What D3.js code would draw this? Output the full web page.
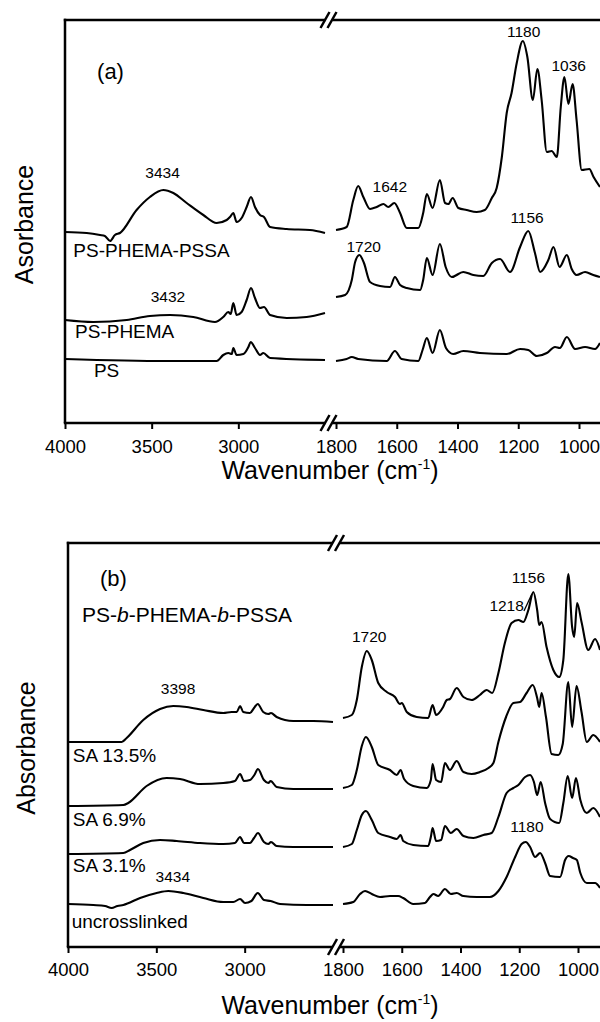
<!DOCTYPE html>
<html>
<head>
<meta charset="utf-8">
<script src="https://cdn.jsdelivr.net/npm/d3@7"></script>
<style>
    body { margin: 0; background: #fff; }
    svg text { font-family: "Liberation Sans", Arial, sans-serif; fill: #000; }
</style>
</head>
<body>
<div id="chart"></div>
<script>
// Tick labels of the broken wavenumber axis
const ticksHigh = [4000, 3500, 3000];
const ticksLow = [1800, 1600, 1400, 1200, 1000];

// Panel (a) spectra: [wavenumber (cm-1), absorbance (a.u., offset)]
const psPhemaPssa = [
    [4000,1.91],[3875,1.90],[3798,1.88],[3770,1.87],[3740,1.82],[3712,1.88],[3683,1.90],[3587,2.13],[3510,2.26],
    [3433,2.33],[3375,2.30],[3298,2.20],[3202,2.08],[3125,2.00],[3067,2.03],[3048,2.06],[3029,2.10],[3010,2.01],
    [2981,2.05],[2952,2.16],[2927,2.26],[2904,2.16],[2875,2.08],[2852,2.06],[2817,1.96],[2721,1.94],[2587,1.93],[2500,1.90],
    [1800,1.93],[1765,1.96],[1743,2.23],[1727,2.37],[1710,2.26],[1688,2.14],[1666,2.16],[1644,2.19],[1628,2.16],
    [1608,2.20],[1589,2.10],[1567,1.95],[1529,1.95],[1513,2.10],[1501,2.29],[1482,2.15],[1458,2.43],[1441,2.20],
    [1430,2.19],[1416,2.25],[1397,2.15],[1370,2.13],[1337,2.11],[1310,2.13],[1287,2.25],[1271,2.35],[1254,2.66],
    [1238,3.10],[1222,3.30],[1205,3.60],[1185,3.82],[1170,3.66],[1152,3.23],[1137,3.54],[1123,3.23],[1106,2.71],
    [1090,2.72],[1073,2.66],[1060,3.16],[1048,3.46],[1035,3.19],[1021,3.39],[1008,3.03],[991,2.53],[966,2.54],
    [952,2.46],[931,2.36]
];
const psPhema = [
    [4000,1.03],[3837,1.01],[3644,1.03],[3510,1.07],[3394,1.08],[3260,1.06],[3135,1.01],[3087,1.06],[3058,1.11],
    [3044,1.09],[3029,1.20],[3010,1.08],[2981,1.11],[2952,1.23],[2927,1.35],[2904,1.25],[2875,1.15],[2852,1.16],
    [2817,1.08],[2721,1.05],[2606,1.06],[2500,1.10],
    [1800,1.26],[1770,1.28],[1748,1.43],[1737,1.61],[1723,1.68],[1708,1.60],[1688,1.41],[1655,1.37],[1622,1.36],
    [1606,1.46],[1589,1.38],[1567,1.35],[1523,1.33],[1513,1.43],[1501,1.65],[1482,1.48],[1458,1.79],[1439,1.56],
    [1419,1.46],[1381,1.51],[1348,1.48],[1315,1.47],[1287,1.60],[1260,1.64],[1227,1.51],[1194,1.76],[1167,1.92],
    [1145,1.70],[1128,1.51],[1101,1.63],[1084,1.76],[1064,1.56],[1040,1.68],[1024,1.54],[1008,1.48],[980,1.51],
    [953,1.48],[931,1.46]
];
const ps = [
    [4000,0.64],[3413,0.62],[3125,0.62],[3087,0.68],[3058,0.70],[3038,0.69],[3029,0.75],[3010,0.68],[2971,0.69],
    [2942,0.76],[2929,0.81],[2904,0.75],[2875,0.68],[2856,0.70],[2817,0.65],[2500,0.63],
    [1800,0.62],[1765,0.64],[1748,0.66],[1727,0.64],[1633,0.62],[1606,0.72],[1584,0.64],[1529,0.62],[1515,0.73],
    [1501,0.85],[1482,0.70],[1458,0.93],[1438,0.75],[1414,0.69],[1381,0.72],[1326,0.70],[1238,0.69],[1194,0.74],
    [1167,0.73],[1139,0.67],[1106,0.70],[1079,0.76],[1063,0.75],[1040,0.86],[1013,0.74],[980,0.76],[947,0.74],[931,0.80]
];

// Panel (b) spectra
const sa135 = [
    [4000,2.05],[3696,2.05],[3668,2.09],[3574,2.27],[3479,2.38],[3404,2.41],[3328,2.40],[3234,2.37],[3121,2.34],
    [3074,2.35],[3045,2.35],[3026,2.41],[3008,2.35],[2970,2.34],[2947,2.39],[2926,2.43],[2895,2.35],[2866,2.33],
    [2851,2.34],[2819,2.30],[2725,2.26],[2611,2.26],[2500,2.25],
    [1800,2.29],[1770,2.32],[1753,2.47],[1736,2.80],[1719,2.96],[1702,2.87],[1680,2.64],[1651,2.55],[1623,2.50],
    [1606,2.43],[1600,2.44],[1583,2.35],[1549,2.30],[1510,2.29],[1495,2.42],[1483,2.32],[1459,2.40],[1447,2.47],
    [1436,2.48],[1413,2.59],[1390,2.50],[1362,2.47],[1334,2.52],[1311,2.57],[1292,2.54],[1271,2.74],[1249,3.04],
    [1226,3.24],[1203,3.27],[1186,3.25],[1169,3.37],[1152,3.55],[1139,3.37],[1132,3.22],[1124,3.25],[1107,3.00],
    [1084,2.77],[1064,2.70],[1050,2.87],[1033,3.73],[1020,3.20],[1013,3.10],[1003,3.44],[988,3.25],[965,2.97],
    [942,3.08],[925,2.97]
];
const sa69 = [
    [4000,1.41],[3687,1.42],[3659,1.44],[3555,1.61],[3442,1.69],[3366,1.68],[3253,1.63],[3121,1.64],[3055,1.66],
    [3026,1.73],[3004,1.66],[2970,1.67],[2945,1.72],[2925,1.78],[2891,1.67],[2866,1.64],[2853,1.66],[2819,1.60],
    [2725,1.58],[2500,1.58],
    [1800,1.59],[1770,1.62],[1753,1.77],[1736,2.01],[1722,2.10],[1702,2.00],[1680,1.82],[1640,1.77],[1617,1.72],
    [1604,1.77],[1592,1.68],[1561,1.61],[1515,1.59],[1501,1.67],[1495,1.83],[1483,1.67],[1466,1.65],[1453,1.84],
    [1436,1.77],[1413,1.86],[1390,1.75],[1362,1.73],[1334,1.75],[1305,1.79],[1288,1.84],[1271,2.05],[1245,2.30],
    [1220,2.44],[1197,2.45],[1175,2.54],[1154,2.62],[1139,2.49],[1132,2.40],[1124,2.54],[1109,2.30],[1090,1.93],
    [1067,1.92],[1052,2.03],[1033,2.65],[1020,2.20],[1005,2.61],[988,2.35],[970,2.05],[948,2.12],[925,2.05]
];
const sa31 = [
    [4000,0.93],[3687,0.94],[3649,0.97],[3574,1.04],[3479,1.07],[3385,1.06],[3253,1.04],[3121,1.03],[3055,1.04],
    [3026,1.10],[3004,1.04],[2970,1.04],[2947,1.09],[2925,1.14],[2891,1.05],[2866,1.03],[2851,1.05],[2819,1.01],
    [2725,1.00],[2500,1.00],
    [1800,1.00],[1770,1.03],[1753,1.17],[1736,1.32],[1722,1.36],[1702,1.27],[1680,1.14],[1640,1.10],[1617,1.08],
    [1604,1.12],[1595,1.06],[1561,1.02],[1510,1.01],[1501,1.10],[1495,1.19],[1483,1.06],[1466,1.07],[1453,1.21],
    [1433,1.14],[1413,1.18],[1390,1.11],[1356,1.09],[1322,1.12],[1294,1.14],[1271,1.30],[1243,1.54],[1220,1.59],
    [1203,1.62],[1180,1.70],[1163,1.72],[1150,1.65],[1139,1.52],[1127,1.65],[1112,1.44],[1095,1.28],[1064,1.24],
    [1050,1.44],[1035,1.71],[1020,1.49],[1007,1.69],[992,1.47],[970,1.34],[948,1.39],[925,1.30]
];
const uncrosslinked = [
    [4000,0.43],[3857,0.42],[3790,0.41],[3753,0.39],[3720,0.41],[3687,0.42],[3592,0.49],[3498,0.54],[3432,0.56],
    [3347,0.54],[3234,0.49],[3121,0.45],[3064,0.45],[3026,0.48],[2998,0.44],[2962,0.46],[2926,0.54],[2891,0.47],
    [2853,0.46],[2800,0.43],[2649,0.42],[2500,0.42],
    [1800,0.43],[1765,0.45],[1742,0.53],[1725,0.56],[1702,0.53],[1674,0.50],[1640,0.51],[1612,0.51],[1595,0.49],
    [1561,0.43],[1521,0.44],[1504,0.50],[1492,0.53],[1476,0.51],[1453,0.58],[1433,0.53],[1413,0.54],[1390,0.51],
    [1345,0.50],[1300,0.50],[1271,0.56],[1243,0.70],[1214,0.90],[1192,1.03],[1178,1.05],[1163,1.00],[1146,0.90],
    [1129,0.94],[1112,0.84],[1095,0.71],[1061,0.70],[1044,0.87],[1032,0.91],[1017,0.89],[1004,0.87],[992,0.74],
    [970,0.64],[942,0.64],[925,0.59]
];

// Text labels placed at [text, wavenumber, absorbance]
const seriesLabelsA = [['PS-PHEMA-PSSA', 3952, 1.66], ['PS-PHEMA', 3942, 0.85], ['PS', 3833, 0.46]];
const peakLabelsA = [['3434', 3437, 2.45], ['3432', 3406, 1.21], ['1642', 1623, 2.31], ['1720', 1709, 1.71],
                     ['1180', 1182, 3.86], ['1036', 1034, 3.52], ['1156', 1171, 2.00]];
const seriesLabelsB = [['SA 13.5%', 3973, 1.85], ['SA 6.9%', 3973, 1.21], ['SA 3.1%', 3973, 0.75], ['uncrosslinked', 3979, 0.195]];
const peakLabelsB = [['3398', 3377, 2.53], ['3434', 3407, 0.65], ['1720', 1711, 3.05], ['1156', 1169, 3.64],
                     ['1218', 1243, 3.36], ['1180', 1174, 1.15]];

const FONT = '"Liberation Sans", Arial, sans-serif';

const svg = d3.select('#chart').append('svg')
    .attr('width', 600)
    .attr('height', 1022);

// Panel layouts
const panels = [
    {series: [psPhemaPssa, psPhema, ps], seriesLabels: seriesLabelsA, peakLabels: peakLabelsA,
     top: 20, bottom: 423, left: 65, brkL: 325, brkR: 336, x1000: 579, yMax: 4.03, pad: 11,
     tag: '(a)', tagPos: [3815, 3.44], yTitle: 'Asorbance', yTitleX: 33, xTitleY: 479},
    {series: [sa135, sa69, sa31, uncrosslinked], seriesLabels: seriesLabelsB, peakLabels: peakLabelsB,
     top: 543, bottom: 947, left: 68, brkL: 333, brkR: 343, x1000: 578, yMax: 4.04, pad: 10,
     tag: '(b)', tagPos: [3819, 3.61], yTitle: 'Absorbance', yTitleX: 35, xTitleY: 1014,
     leader: [[1184, 3.36], [1157, 3.53]]}
];

function drawPanel(p, idx) {
    const g = svg.append('g');

    // Scales for the two segments of the broken axis
    const xL = d3.scaleLinear().domain([4000, 2500]).range([p.left, p.brkL]);
    const xR = d3.scaleLinear().domain([1800, 1000]).range([p.brkR, p.x1000]);
    const y = d3.scaleLinear().domain([0, p.yMax]).range([p.bottom, p.top]);
    const xAny = wn => wn > 2000 ? xL(wn) : xR(wn);
    const brk = (xL(2500) + xR(1800)) / 2;

    const lineL = d3.line().curve(d3.curveMonotoneX).x(d => xL(d[0])).y(d => y(d[1]));
    const lineR = d3.line().curve(d3.curveMonotoneX).x(d => xR(d[0])).y(d => y(d[1]));

    // Spectra
    p.series.forEach(s => {
        g.append('path')
            .attr('fill', 'none').attr('stroke', '#000').attr('stroke-width', 2.1).attr('stroke-linejoin', 'round')
            .attr('d', lineL(s.filter(d => d[0] >= 2500)));
        g.append('path')
            .attr('fill', 'none').attr('stroke', '#000').attr('stroke-width', 2.1).attr('stroke-linejoin', 'round')
            .attr('d', lineR(s.filter(d => d[0] <= 1800)));
    });

    // Frame: left edge, top and bottom with a break
    const frame = g.append('g').attr('stroke', '#000').attr('stroke-width', 2.5);
    frame.append('line').attr('x1', p.left).attr('x2', p.left).attr('y1', p.top - 1.2).attr('y2', p.bottom);
    [p.top, p.bottom].forEach(yy => {
        frame.append('line').attr('x1', p.left - 1.2).attr('x2', brk - 5).attr('y1', yy).attr('y2', yy);
        frame.append('line').attr('x1', brk + 2).attr('x2', 602).attr('y1', yy).attr('y2', yy);
        [-10, -3].forEach(dx => {
            frame.append('line')
                .attr('x1', brk + dx).attr('y1', yy + 8)
                .attr('x2', brk + dx + 9).attr('y2', yy - 8);
        });
    });

    // Bottom axes
    const axisStyle = a => {
        a.select('.domain').remove();
        a.attr('font-family', FONT).attr('font-size', 18.5);
        a.selectAll('line').attr('stroke-width', 2);
    };
    g.append('g')
        .attr('transform', 'translate(0,' + p.bottom + ')')
        .call(d3.axisBottom(xL).tickValues(ticksHigh).tickFormat(d3.format('d')).tickSize(6).tickPadding(p.pad))
        .call(axisStyle);
    g.append('g')
        .attr('transform', 'translate(0,' + p.bottom + ')')
        .call(d3.axisBottom(xR).tickValues(ticksLow).tickFormat(d3.format('d')).tickSize(6).tickPadding(p.pad))
        .call(axisStyle);

    // Axis titles
    const xt = g.append('text')
        .attr('x', 330).attr('y', p.xTitleY)
        .attr('text-anchor', 'middle')
        .style('font-size', '25px')
        .text('Wavenumber (cm');
    xt.append('tspan').attr('dy', -10).style('font-size', '14px').text('-1');
    xt.append('tspan').attr('dy', 10).text(')');

    g.append('text')
        .attr('transform', 'translate(' + p.yTitleX + ',' + ((p.top + p.bottom) / 2 + 3) + ') rotate(-90)')
        .attr('text-anchor', 'middle')
        .style('font-size', '25px')
        .text(p.yTitle);

    // Panel tag
    g.append('text')
        .attr('x', xAny(p.tagPos[0])).attr('y', y(p.tagPos[1]))
        .style('font-size', '22px')
        .text(p.tag);

    // Series names
    p.seriesLabels.forEach(d => {
        g.append('text')
            .attr('x', xAny(d[1])).attr('y', y(d[2]))
            .style('font-size', '19px')
            .text(d[0]);
    });

    // Peak positions
    p.peakLabels.forEach(d => {
        g.append('text')
            .attr('x', xAny(d[1])).attr('y', y(d[2]))
            .attr('text-anchor', 'middle')
            .style('font-size', '15.5px')
            .text(d[0]);
    });

    if (p.leader) {
        g.append('line')
            .attr('stroke', '#000').attr('stroke-width', 1.3)
            .attr('x1', xAny(p.leader[0][0])).attr('y1', y(p.leader[0][1]))
            .attr('x2', xAny(p.leader[1][0])).attr('y2', y(p.leader[1][1]));
    }

    // Sample name with italic block markers
    if (idx === 1) {
        const t = g.append('text')
            .attr('x', xAny(3921)).attr('y', y(3.253))
            .style('font-size', '21px');
        [['PS-', false], ['b', true], ['-PHEMA-', false], ['b', true], ['-PSSA', false]].forEach(part => {
            t.append('tspan').style('font-style', part[1] ? 'italic' : 'normal').text(part[0]);
        });
    }
}

panels.forEach(drawPanel);
</script>
</body>
</html>
